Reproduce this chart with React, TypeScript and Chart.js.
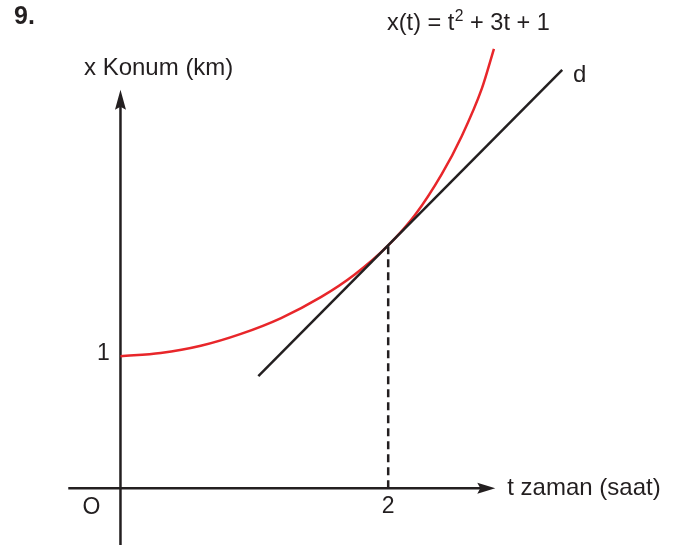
import React, { useEffect, useRef } from "react";
import { Chart, registerables } from "chart.js";

Chart.register(...registerables);

// Position curve x(t), read at sample times t (hours)
const curveT = [0, 0.3, 0.6, 0.9, 1.2, 1.5, 1.75, 2.0, 2.2, 2.4, 2.55, 2.7, 2.79];
const curveX = [1.0, 1.025, 1.08, 1.17, 1.29, 1.45, 1.62, 1.84, 2.07, 2.38, 2.67, 3.03, 3.33];

// Tangent line d, touching the curve at t = 2
const tangentT = [1.03, 3.3];
const tangentX = [0.85, 3.17];

// Dashed drop line from the point of tangency to the time axis
const dropT = [2, 2];
const dropX = [0, 1.84];

// Axis tick labels
const yTickValue = 1;
const yTickLabel = "1";
const xTickValue = 2;
const xTickLabel = "2";

// Axis extents (data units)
const tAxisFrom = -0.39;
const tAxisTo = 2.8;
const xAxisFrom = -0.43;
const xAxisTo = 3.02;

const INK = "#231f20";
const RED = "#e8262a";
const FONT = '"Liberation Sans", Arial, Helvetica, sans-serif';

function pts(xs: number[], ys: number[]) {
  return xs.map((x, i) => ({ x, y: ys[i] }));
}

function text(
  ctx: CanvasRenderingContext2D,
  s: string,
  x: number,
  y: number,
  size: number,
  align: CanvasTextAlign = "left",
  bold = false,
  squeeze = 1
) {
  ctx.save();
  ctx.font = `${bold ? "bold " : ""}${size}px ${FONT}`;
  ctx.fillStyle = INK;
  ctx.textBaseline = "middle";
  ctx.textAlign = align;
  ctx.translate(x, y);
  ctx.scale(squeeze, 1);
  ctx.fillText(s, 0, 0);
  ctx.restore();
}

function arrowHead(
  ctx: CanvasRenderingContext2D,
  tipX: number,
  tipY: number,
  dirX: number,
  dirY: number,
  len: number,
  half: number
) {
  const bx = tipX - dirX * len;
  const by = tipY - dirY * len;
  const nx = -dirY;
  const ny = dirX;
  ctx.beginPath();
  ctx.moveTo(tipX, tipY);
  ctx.lineTo(bx + nx * half, by + ny * half);
  ctx.lineTo(bx + dirX * 3, by + dirY * 3);
  ctx.lineTo(bx - nx * half, by - ny * half);
  ctx.closePath();
  ctx.fill();
}

const whiteBackground = {
  id: "whiteBackground",
  beforeDraw(chart: Chart) {
    const { ctx, width, height } = chart;
    ctx.save();
    ctx.fillStyle = "#ffffff";
    ctx.fillRect(0, 0, width, height);
    ctx.restore();
  },
};

const axesPlugin = {
  id: "axesPlugin",
  beforeDatasetsDraw(chart: Chart) {
    const ctx = chart.ctx;
    const xs = chart.scales.x;
    const ys = chart.scales.y;
    const x0 = xs.getPixelForValue(0);
    const y0 = ys.getPixelForValue(0);
    ctx.save();
    ctx.strokeStyle = INK;
    ctx.fillStyle = INK;
    ctx.lineWidth = 2.5;

    // time axis
    const tEnd = xs.getPixelForValue(tAxisTo);
    ctx.beginPath();
    ctx.moveTo(xs.getPixelForValue(tAxisFrom), y0);
    ctx.lineTo(tEnd - 10, y0);
    ctx.stroke();
    arrowHead(ctx, tEnd, y0, 1, 0, 18, 5.5);

    // position axis
    const yEnd = ys.getPixelForValue(xAxisTo);
    ctx.beginPath();
    ctx.moveTo(x0, ys.getPixelForValue(xAxisFrom));
    ctx.lineTo(x0, yEnd + 10);
    ctx.stroke();
    arrowHead(ctx, x0, yEnd, 0, -1, 20, 5.5);
    ctx.restore();
  },
  afterDraw(chart: Chart) {
    const ctx = chart.ctx;
    const xs = chart.scales.x;
    const ys = chart.scales.y;
    const x0 = xs.getPixelForValue(0);
    const y0 = ys.getPixelForValue(0);

    text(ctx, "9.", 14, 17, 25, "left", true, 1);

    // formula x(t) = t² + 3t + 1
    const fs = 24;
    const sq = 0.98;
    ctx.save();
    ctx.font = `${fs}px ${FONT}`;
    const part1 = "x(t) = t";
    const w1 = ctx.measureText(part1).width * sq;
    ctx.font = `16px ${FONT}`;
    const w2 = ctx.measureText("2").width * sq;
    ctx.restore();
    const fx = 387;
    const fy = 23;
    text(ctx, part1, fx, fy, fs, "left", false, sq);
    text(ctx, "2", fx + w1 + 0.5, fy - 6, 16, "left", false, sq);
    text(ctx, " + 3t + 1", fx + w1 + w2 + 0.5, fy, fs, "left", false, sq);

    text(ctx, "x Konum (km)", 84, 68, 24, "left", false, 1);
    text(ctx, "d", 573, 75, 24, "left", false, 1);
    text(ctx, "t zaman (saat)", xs.getPixelForValue(tAxisTo) + 12, y0, 24, "left", false, 1);

    text(ctx, yTickLabel, x0 - 17, ys.getPixelForValue(yTickValue) - 3, 23, "center", false, 1);
    text(ctx, xTickLabel, xs.getPixelForValue(xTickValue), y0 + 18, 23, "center", false, 1);
    text(ctx, "O", x0 - 29, y0 + 19, 23, "center", false, 1);
  },
};

export default function App() {
  const canvasRef = useRef<HTMLCanvasElement | null>(null);

  useEffect(() => {
    const canvas = canvasRef.current;
    if (!canvas) return;
    const chart = new Chart(canvas, {
      type: "line",
      data: {
        datasets: [
          {
            data: pts(dropT, dropX),
            borderColor: INK,
            borderWidth: 2.5,
            borderDash: [8, 5],
            pointRadius: 0,
          },
          {
            data: pts(tangentT, tangentX),
            borderColor: INK,
            borderWidth: 2.5,
            pointRadius: 0,
          },
          {
            data: pts(curveT, curveX),
            borderColor: RED,
            borderWidth: 2.5,
            cubicInterpolationMode: "monotone",
            pointRadius: 0,
          },
        ],
      },
      options: {
        responsive: false,
        maintainAspectRatio: false,
        devicePixelRatio: 1,
        animation: false,
        layout: { padding: 0 },
        plugins: {
          legend: { display: false },
          tooltip: { enabled: false },
        },
        scales: {
          x: { type: "linear", min: -0.9, max: 4.15, display: false },
          y: { type: "linear", min: -0.43, max: 3.7, display: false },
        },
      },
      plugins: [whiteBackground, axesPlugin],
    });
    return () => chart.destroy();
  }, []);

  return (
    <div style={{ position: "absolute", left: 0, top: 0, width: 676, height: 545 }}>
      <canvas ref={canvasRef} width={676} height={545} />
    </div>
  );
}
